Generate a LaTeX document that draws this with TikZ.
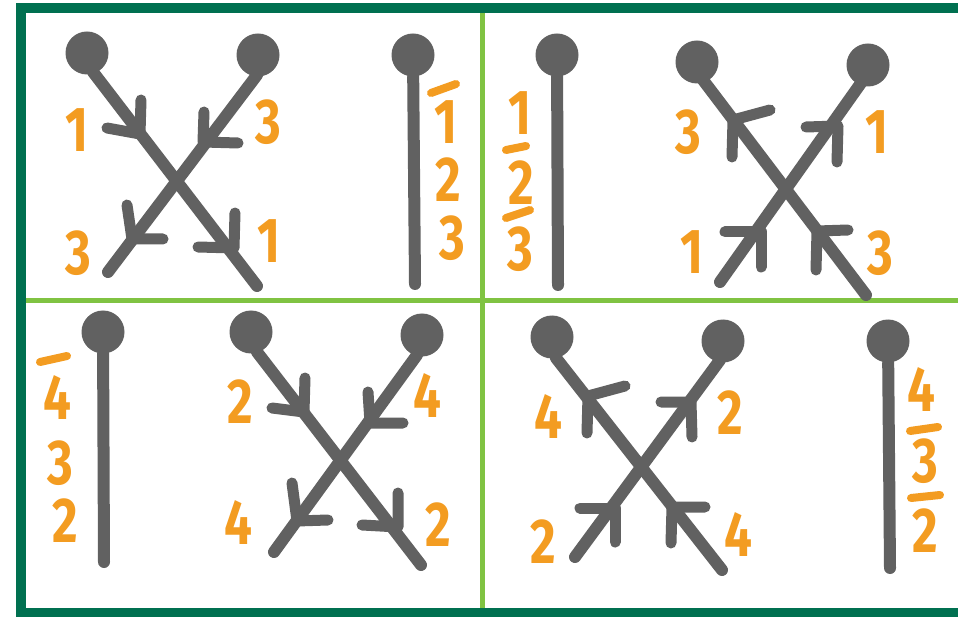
\documentclass[tikz,border=0pt]{standalone}
\usepackage{fontspec}
\setmainfont{Fira Sans}
\definecolor{framec}{RGB}{0,112,80}
\definecolor{dividerc}{RGB}{128,195,66}
\definecolor{wirec}{RGB}{97,97,97}
\definecolor{labc}{RGB}{243,156,33}
\newcommand\labdigit[1]{\scalebox{0.95}[1.22]{#1}}
\begin{document}
\begin{tikzpicture}[x=1pt,y=-1pt,
  wire/.style={draw=wirec,line width=12pt,line cap=round,line join=round},
  barb/.style={draw=wirec,line width=11pt,line cap=round,line join=round},
  knob/.style={circle,fill=wirec,minimum size=43pt,inner sep=0pt},
  lbl/.style={text=labc,font=\fontsize{52}{52}\selectfont\bfseries,inner sep=0pt},
  bar/.style={draw=labc,line width=8pt,line cap=round},
  divider/.style={draw=dividerc,line width=5pt},
  frame/.style={draw=framec,line width=10pt}]
\useasboundingbox (0,0) rectangle (958,617);
\clip (0,0) rectangle (958,617);
\fill[white] (0,0) rectangle (958,617);

% dividers and frame
\coordinate (vt) at (482,12); \coordinate (vb) at (482,612);
\coordinate (hl) at (24,301); \coordinate (hr) at (960,301);
\draw[divider] (vt) -- (vb);
\draw[divider] (hl) -- (hr);
\draw[frame] (975,8) -- (21,8) -- (21,613) -- (975,613);

% ---------- panel 1 (top left) ----------
\node[knob] (a1) at (87,53) {};
\node[knob] (b1) at (258,55) {};
\node[knob] (v1) at (413,55) {};
\coordinate (a1s) at (93,72);  \coordinate (a1e) at (257,286);
\coordinate (b1s) at (257,75); \coordinate (b1e) at (108,272);
\coordinate (v1e) at (415,284);
\draw[wire] (a1s) -- (a1e);
\draw[wire] (b1s) -- (b1e);
\draw[wire] (v1) -- (v1e);
\draw[barb] (141,100) -- (140,134) -- (107,128);
\draw[barb] (235,213) -- (234,248) -- (198,247);
\draw[barb] (204,112) -- (203,142) -- (238,143);
\draw[barb] (127,205) -- (132,239) -- (163,239);
\node[lbl] (l1a) at (77,130) {\labdigit{1}};
\node[lbl] (l1b) at (268,122) {\labdigit{3}};
\node[lbl] (l1c) at (78,253) {\labdigit{3}};
\node[lbl] (l1d) at (269,241) {\labdigit{1}};
\node[lbl] (l1e) at (446,122) {\labdigit{1}};
\draw[bar] (431,93) -- (456,84);
\node[lbl] (l1f) at (448,180) {\labdigit{2}};
\node[lbl] (l1g) at (452,238) {\labdigit{3}};

% ---------- panel 2 (top right) ----------
\node[knob] (v2) at (557,55) {};
\node[knob] (c2) at (697,62) {};
\node[knob] (d2) at (868,65) {};
\coordinate (v2e) at (558,285);
\coordinate (c2s) at (703,80);  \coordinate (c2e) at (866,295);
\coordinate (d2s) at (861,83);  \coordinate (d2e) at (720,282);
\draw[wire] (v2) -- (v2e);
\draw[wire] (c2s) -- (c2e);
\draw[wire] (d2s) -- (d2e);
\draw[barb] (732,157) -- (733,120) -- (770,110);
\draw[barb] (816,270) -- (817,231) -- (848,230);
\draw[barb] (806,127) -- (838,126) -- (837,162);
\draw[barb] (725,232) -- (761,232) -- (761,267);
\node[lbl] (l2a) at (520,113) {\labdigit{1}};
\draw[bar] (506,150) -- (526,146);
\node[lbl] (l2b) at (521,183) {\labdigit{2}};
\draw[bar] (506,218) -- (530,210);
\node[lbl] (l2c) at (520,249) {\labdigit{3}};
\node[lbl] (l2d) at (688,132) {\labdigit{3}};
\node[lbl] (l2e) at (877,132) {\labdigit{1}};
\node[lbl] (l2f) at (692,252) {\labdigit{1}};
\node[lbl] (l2g) at (880,253) {\labdigit{3}};

% ---------- panel 3 (bottom left) ----------
\node[knob] (v3) at (103,332) {};
\node[knob] (e3) at (251,332) {};
\node[knob] (f3) at (422,335) {};
\coordinate (v3e) at (104,562);
\coordinate (e3s) at (257,352); \coordinate (e3e) at (421,565);
\coordinate (f3s) at (417,355); \coordinate (f3e) at (274,552);
\draw[wire] (v3) -- (v3e);
\draw[wire] (e3s) -- (e3e);
\draw[wire] (f3s) -- (f3e);
\draw[barb] (305,378) -- (304,412) -- (272,408);
\draw[barb] (398,493) -- (398,527) -- (362,525);
\draw[barb] (368,392) -- (370,423) -- (403,423);
\draw[barb] (292,483) -- (297,521) -- (328,520);
\draw[bar] (40,362) -- (67,356);
\node[lbl] (l3a) at (57,398) {\labdigit{4}};
\node[lbl] (l3b) at (60,463) {\labdigit{3}};
\node[lbl] (l3c) at (65,521) {\labdigit{2}};
\node[lbl] (l3d) at (240,402) {\labdigit{2}};
\node[lbl] (l3e) at (427,396) {\labdigit{4}};
\node[lbl] (l3f) at (238,523) {\labdigit{4}};
\node[lbl] (l3g) at (438,525) {\labdigit{2}};

% ---------- panel 4 (bottom right) ----------
\node[knob] (g4) at (552,337) {};
\node[knob] (h4) at (723,341) {};
\node[knob] (v4) at (888,341) {};
\coordinate (g4s) at (556,358); \coordinate (g4e) at (722,570);
\coordinate (h4s) at (720,360); \coordinate (h4e) at (575,557);
\coordinate (v4e) at (890,568);
\draw[wire] (g4s) -- (g4e);
\draw[wire] (h4s) -- (h4e);
\draw[wire] (v4) -- (v4e);
\draw[barb] (587,433) -- (588,396) -- (625,386);
\draw[barb] (671,543) -- (672,507) -- (705,507);
\draw[barb] (661,402) -- (691,402) -- (692,437);
\draw[barb] (580,508) -- (615,508) -- (615,542);
\node[lbl] (l4a) at (548,417) {\labdigit{4}};
\node[lbl] (l4b) at (730,413) {\labdigit{2}};
\node[lbl] (l4c) at (543,542) {\labdigit{2}};
\node[lbl] (l4d) at (738,535) {\labdigit{4}};
\node[lbl] (l4e) at (921,390) {\labdigit{4}};
\draw[bar] (910,431) -- (938,427);
\node[lbl] (l4f) at (925,461) {\labdigit{3}};
\draw[bar] (911,498) -- (940,495);
\node[lbl] (l4g) at (925,531) {\labdigit{2}};
\end{tikzpicture}
\end{document}
